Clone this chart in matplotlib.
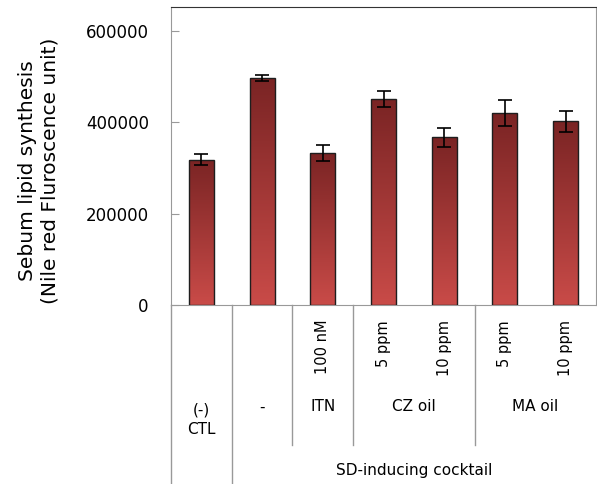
import numpy as np
import matplotlib
matplotlib.use('Agg')
import matplotlib.pyplot as plt
from matplotlib.colors import LinearSegmentedColormap
import matplotlib.transforms as mtransforms

# values
values = [317500, 497500, 333000, 450500, 366500, 420000, 401500]
errors = [12000, 6500, 17500, 18000, 21000, 27500, 22000]
dose_labels = ['', '', '100 nM', '5 ppm', '10 ppm', '5 ppm', '10 ppm']
group_labels = ['(-)\nCTL', '-', 'ITN', 'CZ oil', 'MA oil']
group_centers = [0, 1, 2, 3.5, 5.5]
group_edges = [1.5, 2.5, 4.5]
yticks = [0, 200000, 400000, 600000]

plt.rcParams['font.family'] = ['DejaVu Sans']

fig = plt.figure(figsize=(5.97, 4.84), dpi=100)
ax = fig.add_axes([171 / 597, 179 / 484, 425 / 597, 298 / 484])

x = np.arange(len(values))
bars = ax.bar(x, values, width=0.41, facecolor='none', edgecolor='#1e1e1e',
              linewidth=1.0, zorder=3)
ax.errorbar(x, values, yerr=errors, fmt='none', ecolor='black', elinewidth=1.2,
            capsize=5, capthick=1.2, zorder=4)

# gradient fill clipped to each bar
cmap = LinearSegmentedColormap.from_list('redgrad', ['#c94b48', '#7a2424'])
grad = np.linspace(0, 1, 256).reshape(-1, 1)
for b in bars:
    bx, by = b.get_x(), b.get_y()
    w, h = b.get_width(), b.get_height()
    im = ax.imshow(grad, cmap=cmap, origin='lower', aspect='auto',
                   extent=[bx, bx + w, by, by + h], zorder=2)
    im.set_clip_path(b)

ax.set_xlim(-0.5, 6.5)
ax.set_ylim(0, 652000)
ax.set_yticks(yticks)
ax.set_yticklabels([str(t) for t in yticks], fontsize=12)
ax.set_xticks([])
ax.tick_params(axis='y', direction='in', length=6, color='#999999', pad=16)

for side in ['left', 'right', 'bottom']:
    ax.spines[side].set_color('#999999')
ax.spines['top'].set_color('#333333')

fig.text(39 / 597, 1 - 171 / 484, 'Sebum lipid synthesis\n(Nile red Fluroscence unit)',
         rotation=90, ha='center', va='center', fontsize=14.5, linespacing=1.25)

# category table below the axis
trans = mtransforms.blended_transform_factory(ax.transData, ax.transAxes)
bottom = -179 / 298
mid = -140 / 298
ax.plot([-0.5, -0.5], [0, bottom], transform=trans, color='#999999', lw=1, clip_on=False)
ax.plot([0.5, 0.5], [0, bottom], transform=trans, color='#999999', lw=1, clip_on=False)
for e in group_edges:
    ax.plot([e, e], [0, mid], transform=trans, color='#999999', lw=1, clip_on=False)

for i, lab in enumerate(dose_labels):
    if lab:
        ax.text(i, -0.05, lab, transform=trans, rotation=90, ha='center', va='top',
                fontsize=10.5)

for c, lab in zip(group_centers, group_labels):
    yy = -0.384 if '\n' in lab else -0.342
    ax.text(c, yy, lab, transform=trans, ha='center', va='center', fontsize=11,
            linespacing=1.4)

ax.text(3.5, -0.554, 'SD-inducing cocktail', transform=trans, ha='center',
        va='center', fontsize=11)

fig.savefig('out.png', dpi=100)
